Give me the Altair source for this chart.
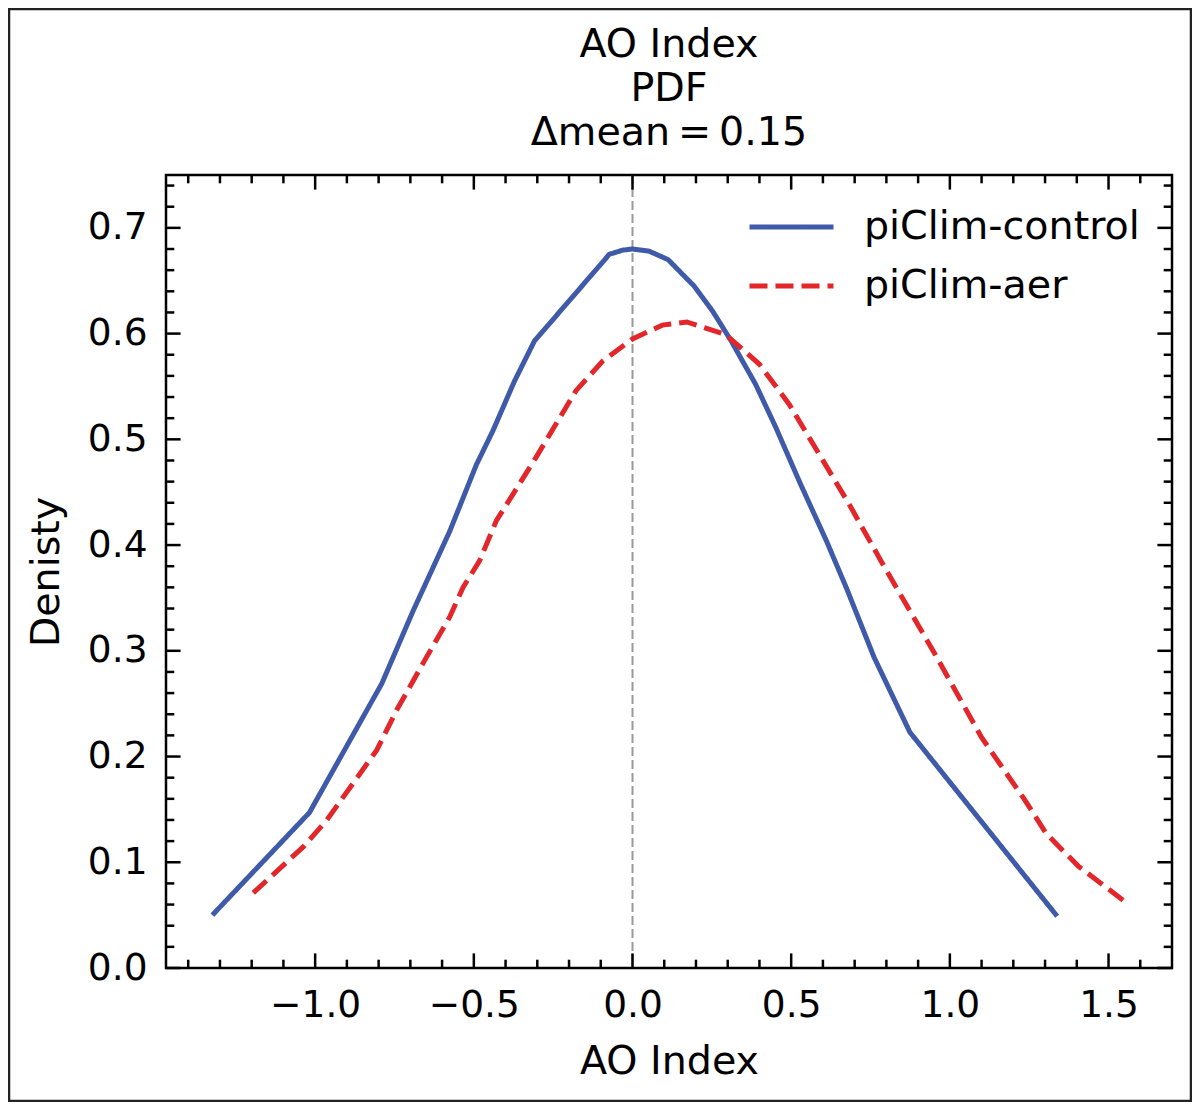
import altair as alt
import pandas as pd

# ---- data ----
series_names = ["piClim-control", "piClim-aer"]

ctrl_x = [-1.324, -1.018, -0.790, -0.691, -0.576, -0.492, -0.440, -0.372, -0.309,
          -0.073, -0.030, 0.000, 0.052, 0.112, 0.194, 0.253, 0.311, 0.388, 0.452,
          0.529, 0.611, 0.676, 0.761, 0.874, 1.338]
ctrl_y = [0.050, 0.147, 0.269, 0.338, 0.413, 0.476, 0.508, 0.555, 0.593,
          0.675, 0.679, 0.680, 0.678, 0.670, 0.645, 0.621, 0.593, 0.552, 0.511,
          0.458, 0.404, 0.358, 0.294, 0.223, 0.049]

aer_x = [-1.195, -1.036, -0.963, -0.806, -0.743, -0.649, -0.576, -0.534, -0.482,
         -0.429, -0.304, -0.178, -0.094, 0.000, 0.094, 0.171, 0.294, 0.400, 0.494,
         0.576, 0.682, 0.783, 0.835, 0.953, 1.100, 1.236, 1.304, 1.406, 1.564]
aer_y = [0.071, 0.115, 0.140, 0.206, 0.244, 0.294, 0.332, 0.360, 0.385,
         0.423, 0.483, 0.546, 0.574, 0.595, 0.608, 0.611, 0.599, 0.571, 0.533,
         0.492, 0.439, 0.385, 0.358, 0.297, 0.218, 0.159, 0.127, 0.096, 0.060]

zero_line_x = [0.0]

x_major = [-1.0, -0.5, 0.0, 0.5, 1.0, 1.5]
x_minor = [-1.4, -1.3, -1.2, -1.1, -0.9, -0.8, -0.7, -0.6, -0.4, -0.3, -0.2, -0.1,
           0.1, 0.2, 0.3, 0.4, 0.6, 0.7, 0.8, 0.9, 1.1, 1.2, 1.3, 1.4, 1.6]
y_major = [0.0, 0.1, 0.2, 0.3, 0.4, 0.5, 0.6, 0.7]
y_minor = [0.02, 0.04, 0.06, 0.08, 0.12, 0.14, 0.16, 0.18, 0.22, 0.24, 0.26, 0.28,
           0.32, 0.34, 0.36, 0.38, 0.42, 0.44, 0.46, 0.48, 0.52, 0.54, 0.56, 0.58,
           0.62, 0.64, 0.66, 0.68, 0.72, 0.74]

title_lines = ["AO Index", "PDF", "Δmean\u2009=\u20090.15"]
x_title = "AO Index"
y_title = "Denisty"

# ---- layout / style ----
W, H = 1006, 793
FONT = "DejaVu Sans"
FS = 37.5      # tick labels
FS2 = 39.6     # titles and legend
BLUE = "#3f5aa9"
RED = "#e3262a"
LW = 5
MAJ, MIN_ = 14.6, 8.3
TW = 2.5

df = pd.DataFrame({
    "x": ctrl_x + aer_x,
    "y": ctrl_y + aer_y,
    "series": [series_names[0]] * len(ctrl_x) + [series_names[1]] * len(aer_x),
})

xs = alt.Scale(domain=[-1.47, 1.70], nice=False, zero=False)
ys = alt.Scale(domain=[0, 0.75], nice=False, zero=False)

legend = alt.Legend(
    title=None, orient="none", legendX=581, legendY=22.5, padding=0,
    symbolType="stroke", symbolSize=84 * 84, symbolStrokeWidth=LW,
    clipHeight=59, rowPadding=0, labelOffset=28, labelFontSize=FS2,
    labelFont=FONT, labelColor="black", labelLimit=500,
)

lines = alt.Chart(df).mark_line(strokeWidth=LW).encode(
    x=alt.X("x:Q", scale=xs, axis=alt.Axis(
        values=x_major, format=".1f", ticks=False, tickSize=0, domain=False, grid=False,
        labelPadding=18, labelFontSize=FS, labelFont=FONT, labelColor="black",
        title=x_title, titleFontSize=FS2, titleFont=FONT, titleFontWeight="normal",
        titleColor="black", titleBaseline="alphabetic", titleY=105, titleX=W / 2,
        titleAlign="center")),
    y=alt.Y("y:Q", scale=ys, axis=alt.Axis(
        values=y_major, format=".1f", ticks=False, tickSize=0, domain=False, grid=False,
        labelPadding=19, labelFontSize=FS, labelFont=FONT, labelColor="black",
        title=y_title, titleFontSize=FS2, titleFont=FONT, titleFontWeight="normal",
        titleColor="black", titleBaseline="alphabetic", titleX=-108, titleY=H / 2,
        titleAlign="center", titleAngle=270)),
    color=alt.Color("series:N", scale=alt.Scale(domain=series_names, range=[BLUE, RED]),
                    legend=legend),
    strokeDash=alt.StrokeDash("series:N", scale=alt.Scale(domain=series_names,
                                                          range=[[1, 0], [18, 8]]),
                              legend=legend),
    order=alt.Order("x:Q"),
)

zero = alt.Chart(pd.DataFrame({"x": zero_line_x})).mark_rule(
    color="#999999", strokeWidth=2, strokeDash=[9, 4]
).encode(x=alt.X("x:Q", scale=xs))


def xticks(vals, length):
    d = pd.DataFrame({"v": vals})
    bot = alt.Chart(d).mark_rule(color="black", strokeWidth=TW).encode(
        x=alt.X("v:Q", scale=xs), y=alt.value(H), y2=alt.value(H - length))
    top = alt.Chart(d).mark_rule(color="black", strokeWidth=TW).encode(
        x=alt.X("v:Q", scale=xs), y=alt.value(0), y2=alt.value(length))
    return [bot, top]


def yticks(vals, length):
    d = pd.DataFrame({"v": vals})
    left = alt.Chart(d).mark_rule(color="black", strokeWidth=TW).encode(
        y=alt.Y("v:Q", scale=ys), x=alt.value(0), x2=alt.value(length))
    right = alt.Chart(d).mark_rule(color="black", strokeWidth=TW).encode(
        y=alt.Y("v:Q", scale=ys), x=alt.value(W), x2=alt.value(W - length))
    return [left, right]


one = pd.DataFrame({"k": [0]})
title = alt.Chart(one).mark_text(
    text=title_lines, lineHeight=44, baseline="alphabetic", align="center",
    fontSize=FS2, font=FONT, color="black"
).encode(x=alt.value(W / 2), y=alt.value(-118))

frame = alt.Chart(one).mark_rect(
    fillOpacity=0, stroke="#222222", strokeWidth=2.5
).encode(x=alt.value(-157), x2=alt.value(1025), y=alt.value(-166), y2=alt.value(926))

layers = [zero] + xticks(x_major, MAJ) + xticks(x_minor, MIN_) + \
    yticks(y_major, MAJ) + yticks(y_minor, MIN_) + [lines, title, frame]

chart = alt.layer(*layers).properties(
    width=W, height=H,
    padding={"left": 158, "top": 167, "right": 20, "bottom": 134},
    autosize=alt.AutoSizeParams(type="none"),
).configure(font=FONT).configure_view(stroke="black", strokeWidth=2.5)

chart.save("out.html", embed_options={"renderer": "svg", "actions": False})
